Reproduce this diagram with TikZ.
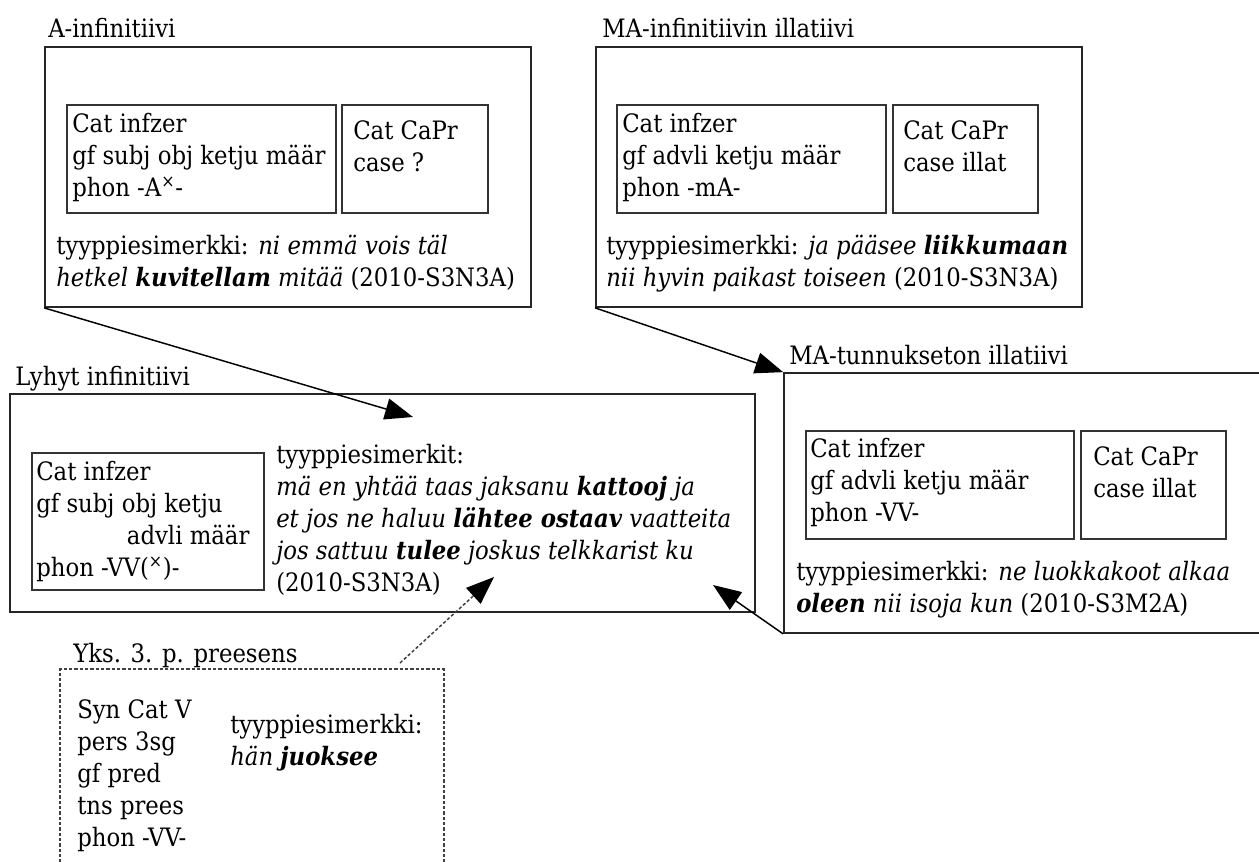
\documentclass[tikz,border=0pt]{standalone}
\usepackage{fontspec}
\setmainfont{DejaVu Serif Condensed}
\usetikzlibrary{arrows.meta,fit}

% multi-line text block whose baseline is the first line
\newcommand\blk[1]{\begin{tabular}[t]{@{}l@{}}#1\end{tabular}}
\newcommand\bi[1]{\textbf{\textit{#1}}}

\begin{document}
\begin{tikzpicture}[x=0.75pt,y=-0.75pt,
  frame/.style={draw=black!85, line width=1.3pt, inner sep=0pt},
  inbox/.style={draw=black!80, line width=1.2pt, inner sep=0pt},
  dashframe/.style={draw=black!75, line width=1pt, dash pattern=on 2.4pt off 1.6pt, inner sep=0pt},
  txt/.style={anchor=base west, inner sep=0pt, font=\fontsize{19}{24}\selectfont},
  arr/.style={line width=1.1pt, -{Triangle[length=21pt,width=16pt,color=black]}},
  dasharr/.style={arr, draw=black!75, dash pattern=on 2.4pt off 1.6pt},
]
\useasboundingbox (0,0) rectangle (1259,861);
\fill[white] (0,0) rectangle (1259,861);
\clip (0,0) rectangle (1259,861);

% ---- A-infinitiivi ----
\node[txt] (labA) at (48,37) {A-infinitiivi};
\node[frame, fit={(45,47) (531,307)}] (boxA) {};
\node[inbox, fit={(67,105) (336,213)}] (boxAl) {};
\node[inbox, fit={(342,105) (488,213)}] (boxAr) {};
\node[txt] (tAl) at (72,132) {\blk{Cat infzer\\gf subj obj ketju määr\\phon -A\textsuperscript{×}-}};
\node[txt] (tAr) at (353,139) {\blk{Cat CaPr\\case ?}};
\node[txt] (exA) at (56,254) {\blk{tyyppiesimerkki: \textit{ni emmä vois täl}\\\textit{hetkel \textbf{kuvitellam} mitää} (2010-S3N3A)}};

% ---- MA-infinitiivin illatiivi ----
\node[txt] (labM) at (602,37) {MA-infinitiivin illatiivi};
\node[frame, fit={(596,47) (1082,307)}] (boxM) {};
\node[inbox, fit={(617,105) (886,213)}] (boxMl) {};
\node[inbox, fit={(893,105) (1038,213)}] (boxMr) {};
\node[txt] (tMl) at (622,132) {\blk{Cat infzer\\gf advli ketju määr\\phon -mA-}};
\node[txt] (tMr) at (903,139) {\blk{Cat CaPr\\case illat}};
\node[txt] (exM) at (606,254) {\blk{tyyppiesimerkki: \textit{ja pääsee \textbf{liikkumaan}}\\\textit{nii hyvin paikast toiseen} (2010-S3N3A)}};

% ---- Lyhyt infinitiivi ----
\node[txt] (labL) at (15,385) {Lyhyt infinitiivi};
\node[frame, fit={(10,394) (755,612)}] (boxL) {};
\node[inbox, fit={(32,453) (264,590)}] (boxLi) {};
\node[txt] (tLi) at (36,480) {\blk{Cat infzer\\gf subj obj ketju\\\hspace*{68pt}advli määr\\phon -VV(\textsuperscript{×})-}};
\node[txt] (exL) at (276,463) {\blk{tyyppiesimerkit:\\\textit{mä en yhtää taas jaksanu \textbf{kattooj} ja}\\\textit{et jos ne haluu \textbf{lähtee ostaav} vaatteita}\\\textit{jos sattuu \textbf{tulee} joskus telkkarist ku}\\(2010-S3N3A)}};

% ---- MA-tunnukseton illatiivi ----
\node[txt] (labT) at (789,364) {MA-tunnukseton illatiivi};
\node[frame, fit={(784,373) (1300,633)}] (boxT) {};
\node[inbox, fit={(806,431) (1074,539)}] (boxTl) {};
\node[inbox, fit={(1081,431) (1226,539)}] (boxTr) {};
\node[txt] (tTl) at (810,457) {\blk{Cat infzer\\gf advli ketju määr\\phon -VV-}};
\node[txt] (tTr) at (1093,465) {\blk{Cat CaPr\\case illat}};
\node[txt] (exT) at (796,580) {\blk{tyyppiesimerkki: \textit{ne luokkakoot alkaa}\\\textit{\textbf{oleen} nii isoja kun} (2010-S3M2A)}};

% ---- Yks. 3. p. preesens ----
\node[txt] (labY) at (73,662) {Yks. 3. p. preesens};
\node[dashframe, fit={(60,669) (444,900)}] (boxY) {};
\node[txt] (tYl) at (77,718) {\blk{Syn Cat V\\pers 3sg\\gf pred\\tns prees\\phon -VV-}};
\node[txt] (tYr) at (230,733) {\blk{tyyppiesimerkki:\\\textit{hän \bi{juoksee}}}};

% ---- connectors ----
\coordinate (tipA) at (413,417);
\coordinate (tipT) at (713,585);
\coordinate (startY) at (400,663);
\coordinate (tipY) at (494,577);
\draw[arr] (boxA.south west) -- (tipA);
\draw[arr] (boxM.south west) -- (boxT.north west);
\draw[arr] (boxT.south west) -- (tipT);
\draw[dasharr] (startY) -- (tipY);
\end{tikzpicture}
\end{document}
